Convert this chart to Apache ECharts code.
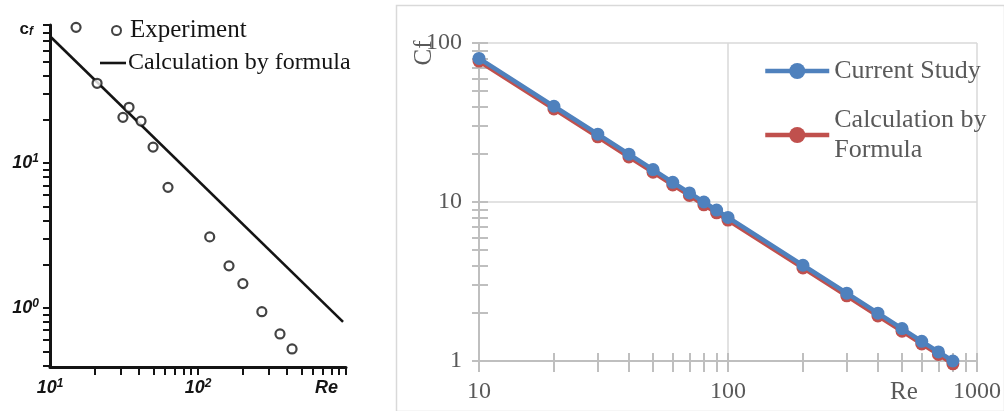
<!DOCTYPE html>
<html><head><meta charset="utf-8">
<script src="https://cdn.jsdelivr.net/npm/echarts@6/dist/echarts.min.js"></script>
<style>html,body{margin:0;padding:0;background:#fff}#c{width:1004px;height:411px}</style>
</head><body><div id="c"></div>
<script>
// ---- Left panel (scanned figure) ----
const expRe = [15.0, 20.8, 31.1, 34.2, 41.2, 49.7, 62.7, 120, 162, 201, 270, 358, 432];
const expCf = [86.7, 35.6, 20.7, 24.3, 19.5, 12.9, 6.8, 3.09, 1.95, 1.47, 0.94, 0.66, 0.52];
const formulaRe = [10, 955];
const formulaCf = [75.2, 0.80];
const leftXLabels = [10, 100];
const leftYLabels = [1, 10];
const leftXTicks = [20,30,40,50,60,70,80,90,100,200,300,400,500,600,700,800,900,1000];
const leftYTicks = [0.4,0.5,0.6,0.7,0.8,0.9,1,2,3,4,5,6,7,8,9,10,20,30,40,50,60,70,80,90];

// ---- Right panel ----
const studyRe = [10,20,30,40,50,60,70,80,90,100,200,300,400,500,600,700,800];
const currentStudy = [80, 40, 26.7, 20, 16, 13.3, 11.4, 10, 8.9, 8, 4, 2.67, 2, 1.6, 1.33, 1.14, 1.0];
const calcFormula  = [77, 38.5, 25.7, 19.2, 15.4, 12.8, 11.0, 9.6, 8.55, 7.7, 3.85, 2.57, 1.92, 1.54, 1.28, 1.1, 0.96];
const rightXLabels = [10, 100, 1000];
const rightYLabels = [1, 10, 100];
const rightXTicks = [10,20,30,40,50,60,70,80,90,100,200,300,400,500,600,700,800,900,1000];
const rightYTicks = [1,2,3,4,5,6,7,8,9,10,20,30,40,50,60,70,80,90,100];

const zip = (a, b) => a.map((v, i) => [v, b[i]]);
const INK = '#141414';
const GREY = '#595959';
const SERIF = 'Liberation Serif, Times New Roman, serif';
const SCAN_FONT = 'Liberation Sans, DejaVu Sans, sans-serif';

const scanLabelRich = {
  b: {fontSize: 18, fontWeight: 'bold', fontStyle: 'italic', color: INK, fontFamily: SCAN_FONT, lineHeight: 20},
  s: {fontSize: 12, fontWeight: 'bold', fontStyle: 'italic', color: INK, fontFamily: SCAN_FONT, verticalAlign: 'top', lineHeight: 20}
};
const powLabel = v => '{b|10}{s|' + Math.round(Math.log10(v)) + '}';

const chart = echarts.init(document.getElementById('c'), null, {renderer: 'canvas'});
chart.setOption({
  backgroundColor: '#fff',
  animation: false,
  graphic: [{
    type: 'rect', left: 394, top: 3, z: -10,
    shape: {width: 608, height: 406},
    style: {fill: 'none', stroke: '#D9D9D9', lineWidth: 1.5}
  }],
  grid: [
    {left: 50, top: 25, width: 296, height: 342},
    {left: 479, top: 43, width: 499, height: 318}
  ],
  legend: [
    {
      left: 111, top: 18, padding: 0, orient: 'vertical',
      itemWidth: 9, itemHeight: 9,
      data: ['Experiment'],
      itemStyle: {color: '#fff', borderColor: INK, borderWidth: 2},
      textStyle: {fontFamily: SERIF, fontSize: 25, color: INK, padding: [0, 0, 0, 4]}
    },
    {
      left: 100, top: 51, padding: 0, orient: 'vertical',
      itemWidth: 26, itemHeight: 20,
      icon: 'path://M0,9 L26,9 L26,11.6 L0,11.6 Z',
      data: ['Calculation by formula'],
      itemStyle: {color: INK},
      textStyle: {fontFamily: SERIF, fontSize: 24, color: INK, padding: [0, 0, 0, -3]}
    },
    {
      left: 763, top: 56, padding: 0, orient: 'vertical',
      itemWidth: 64, itemHeight: 20, itemGap: 4,
      lineStyle: {width: 4.5},
      data: [
        {name: 'Current Study'},
        {name: 'Calculation by Formula', textStyle: {padding: [30, 0, 0, 0]}}
      ],
      formatter: n => n === 'Calculation by Formula' ? 'Calculation by\nFormula' : n,
      textStyle: {fontFamily: SERIF, fontSize: 26, color: GREY, lineHeight: 30}
    }
  ],
  xAxis: [
    {
      gridIndex: 0, type: 'log', min: 10, max: 1000, position: 'bottom',
      axisLine: {show: true, lineStyle: {color: INK, width: 3}},
      axisTick: {show: true, inside: false, length: 8, lineStyle: {color: INK, width: 2}, customValues: leftXTicks},
      axisLabel: {show: true, margin: 11, customValues: leftXLabels, formatter: powLabel, rich: scanLabelRich},
      splitLine: {show: false},
      name: 'Re', nameLocation: 'end', nameGap: -31, nameMoveOverlap: false,
      nameTextStyle: {fontFamily: SCAN_FONT, fontSize: 18, fontWeight: 'bold', fontStyle: 'italic', color: INK,
        align: 'left', verticalAlign: 'top', padding: [12, 0, 0, 0]}
    },
    {
      gridIndex: 1, type: 'log', min: 10, max: 1000, position: 'bottom',
      axisLine: {show: true, lineStyle: {color: '#BFBFBF', width: 2}},
      axisTick: {show: true, inside: false, length: 11, lineStyle: {color: '#BFBFBF', width: 2}, customValues: rightXTicks},
      axisLabel: {show: true, margin: 19, customValues: rightXLabels, formatter: v => String(Math.round(v)),
        fontFamily: SERIF, fontSize: 24, color: GREY},
      splitLine: {show: false},
      name: 'Re', nameLocation: 'end', nameGap: -87, nameMoveOverlap: false,
      nameTextStyle: {fontFamily: SERIF, fontSize: 25, color: GREY, align: 'left', verticalAlign: 'top', padding: [19, 0, 0, 0]}
    },
    {
      gridIndex: 1, type: 'log', min: 10, max: 1000, position: 'bottom',
      axisLine: {show: false},
      axisTick: {show: true, inside: true, length: 8, lineStyle: {color: '#BFBFBF', width: 2}, customValues: rightXTicks},
      axisLabel: {show: false}, splitLine: {show: false}
    },
    {
      gridIndex: 1, type: 'log', min: 10, max: 1000, position: 'bottom',
      axisLine: {show: false},
      axisTick: {show: false, customValues: rightXLabels},
      axisLabel: {show: false},
      splitLine: {show: true, lineStyle: {color: '#D9D9D9', width: 1.5}}
    }
  ],
  yAxis: [
    {
      gridIndex: 0, type: 'log', min: 0.39, max: 90, position: 'left',
      axisLine: {show: true, lineStyle: {color: INK, width: 3}},
      axisTick: {show: true, inside: false, length: 7, lineStyle: {color: INK, width: 2}, customValues: leftYTicks},
      axisLabel: {show: true, margin: 11, customValues: leftYLabels, formatter: powLabel, rich: scanLabelRich},
      splitLine: {show: false},
      name: '{c|c}{f|f}', nameLocation: 'end', nameGap: -13, nameMoveOverlap: false,
      nameTextStyle: {align: 'right', verticalAlign: 'bottom', padding: [0, 17, 0, 0],
        rich: {
          c: {fontSize: 17, fontWeight: 'bold', color: INK, fontFamily: SCAN_FONT, lineHeight: 18},
          f: {fontSize: 12, fontWeight: 'bold', fontStyle: 'italic', color: INK, fontFamily: SCAN_FONT, verticalAlign: 'bottom', lineHeight: 18}
        }}
    },
    {
      gridIndex: 1, type: 'log', min: 1, max: 100, position: 'left',
      axisLine: {show: true, lineStyle: {color: '#BFBFBF', width: 2}},
      axisTick: {show: true, inside: false, length: 7, lineStyle: {color: '#BFBFBF', width: 2}, customValues: rightYTicks},
      axisLabel: {show: true, margin: 17, customValues: rightYLabels, formatter: v => String(Math.round(v)),
        fontFamily: SERIF, fontSize: 24, color: GREY},
      splitLine: {show: false},
      name: 'Cf', nameLocation: 'middle', nameGap: 42, nameRotate: 90, nameMoveOverlap: false,
      nameTextStyle: {fontFamily: SERIF, fontSize: 25, color: GREY, padding: [0, 0, 0, 298]}
    },
    {
      gridIndex: 1, type: 'log', min: 1, max: 100, position: 'left',
      axisLine: {show: false},
      axisTick: {show: true, inside: true, length: 9, lineStyle: {color: '#BFBFBF', width: 2}, customValues: rightYTicks},
      axisLabel: {show: false}, splitLine: {show: false}
    },
    {
      gridIndex: 1, type: 'log', min: 1, max: 100, position: 'left',
      axisLine: {show: false},
      axisTick: {show: false, customValues: rightYLabels},
      axisLabel: {show: false},
      splitLine: {show: true, lineStyle: {color: '#D9D9D9', width: 1.5}}
    }
  ],
  series: [
    {
      name: 'Experiment', type: 'scatter', xAxisIndex: 0, yAxisIndex: 0,
      data: zip(expRe, expCf), symbol: 'circle', symbolSize: 9,
      itemStyle: {color: '#fff', borderColor: INK, borderWidth: 2.2}, clip: false, z: 3
    },
    {
      name: 'Calculation by formula', type: 'line', xAxisIndex: 0, yAxisIndex: 0,
      data: zip(formulaRe, formulaCf), symbol: 'none',
      lineStyle: {color: INK, width: 2.6}, itemStyle: {color: INK}, clip: false, z: 2
    },
    {
      name: 'Calculation by Formula', type: 'line', xAxisIndex: 1, yAxisIndex: 1,
      data: zip(studyRe, calcFormula), symbol: 'circle', symbolSize: 13, showSymbol: true,
      lineStyle: {color: '#C0504D', width: 4.5}, itemStyle: {color: '#C0504D'}, clip: false, z: 2
    },
    {
      name: 'Current Study', type: 'line', xAxisIndex: 1, yAxisIndex: 1,
      data: zip(studyRe, currentStudy), symbol: 'circle', symbolSize: 13, showSymbol: true,
      lineStyle: {color: '#4F81BD', width: 4.5}, itemStyle: {color: '#4F81BD'}, clip: false, z: 3
    }
  ]
});
</script></body></html>
